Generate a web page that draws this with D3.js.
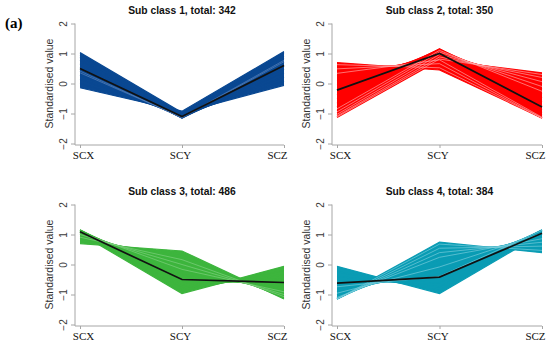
<!DOCTYPE html>
<html><head><meta charset="utf-8">
<script src="https://cdn.jsdelivr.net/npm/d3@7"></script>
<style>body{margin:0;background:#fff}svg{display:block}</style>
</head><body><svg id="c" width="550" height="349"></svg>
<script>
const categories = ["SCX", "SCY", "SCZ"];
const yTicks = [2, 1, 0, -1, -2];
const titles = ["Sub class 1, total: 342", "Sub class 2, total: 350", "Sub class 3, total: 486", "Sub class 4, total: 384"];

const lines1 = [[-0.141,-0.922,1.063],[0,-1.0,1.0],[0.141,-1.063,0.922],[0.279,-1.110,0.831],[0.414,-1.140,0.727],[0.542,-1.154,0.612],[0.662,-1.150,0.488],[0.773,-1.129,0.357],[0.871,-1.092,0.220],[0.957,-1.038,0.081],[1.029,-0.968,-0.060]];
const faint1 = [[0.414,-1.140,0.727],[0.357,-1.129,0.773]];
const mean1 = [0.5,-1.1,0.6];

const lines2 = [[0.695,0.451,-1.146],[0.560,0.595,-1.155],[0.414,0.727,-1.140],[0.260,0.845,-1.104],[0.101,0.946,-1.047],[-0.060,1.029,-0.968],[-0.220,1.092,-0.871],[-0.376,1.133,-0.758],[-0.524,1.153,-0.629],[-0.662,1.150,-0.488],[-0.788,1.125,-0.338],[-0.897,1.078,-0.181],[-0.990,1.010,-0.020],[-1.063,0.922,0.141],[-1.110,0.831,0.279],[-1.129,0.773,0.357]];
const faint2 = [[0.629,0.524,-1.153],[0.488,0.662,-1.150],[0.338,0.788,-1.125],[-0.845,1.104,-0.260],[-0.946,1.047,-0.101],[-1.029,0.968,0.060],[-1.085,0.885,0.200],[-1.115,0.816,0.299]];
const mean2 = [-0.22,1.0,-0.78];

const lines3 = [[1.029,-0.968,-0.060],[1.085,-0.885,-0.200],[1.125,-0.788,-0.338],[1.148,-0.679,-0.470],[1.155,-0.577,-0.577],[1.148,-0.470,-0.679],[1.125,-0.338,-0.788],[1.085,-0.200,-0.885],[1.029,-0.060,-0.968],[0.957,0.081,-1.038],[0.871,0.220,-1.092],[0.788,0.338,-1.125],[0.695,0.451,-1.146]];
const faint3 = [[0.910,0.161,-1.071],[1.0,0,-1.0],[1.071,-0.161,-0.910]];
const mean3 = [1.09,-0.5,-0.6];

const lines4 = [[-1.137,0.742,0.395],[-1.154,0.612,0.542],[-1.148,0.470,0.679],[-1.120,0.318,0.802],[-1.071,0.161,0.910],[-1.0,0,1.0],[-0.910,-0.161,1.071],[-0.802,-0.318,1.120],[-0.679,-0.470,1.148],[-0.542,-0.612,1.154],[-0.395,-0.742,1.137],[-0.240,-0.858,1.098],[-0.060,-0.968,1.029]];
const faint4 = [[-1.148,0.679,0.470],[-1.154,0.542,0.612],[-1.137,0.395,0.742],[-1.098,0.240,0.858],[-0.957,-0.081,1.038],[-0.742,-0.395,1.137]];
const mean4 = [-0.62,-0.42,1.04];

const panelsData = [
  {title: titles[0], lines: lines1, faint: faint1, mean: mean1, color: "#0a4892", light: "#5f86bd"},
  {title: titles[1], lines: lines2, faint: faint2, mean: mean2, color: "#ff0000", light: "#ffb0b0"},
  {title: titles[2], lines: lines3, faint: faint3, mean: mean3, color: "#3db53d", light: "#84d184"},
  {title: titles[3], lines: lines4, faint: faint4, mean: mean4, color: "#0a9cb4", light: "#80d0de"}
];

// layout
const colX = [{axis: 75, x0: 80, x1: 284}, {axis: 332, x0: 337, x1: 542}];
const rowY = [{top: 23.5, bot: 143.5, xAxis: 145}, {top: 204.5, bot: 324.5, xAxis: 326}];
const labelShift = [3, -2, -7];

const svg = d3.select("#c");
svg.append("text").attr("x", 5).attr("y", 28)
  .attr("font-family", "Liberation Serif, Times New Roman, serif")
  .attr("font-weight", "bold").attr("font-size", 15).text("(a)");

panelsData.forEach((p, i) => {
  const c = colX[i % 2], r = rowY[Math.floor(i / 2)];
  const xP = d3.scalePoint().domain(categories).range([c.x0, c.x1]);
  const xL = d3.scaleLinear().domain([0, categories.length - 1]).range([c.x0, c.x1]);
  const y = d3.scaleLinear().domain([-2, 2]).range([r.bot, r.top]);
  const g = svg.append("g");

  // envelope of all lines
  const all = p.lines.concat(p.faint);
  const last = categories.length - 1;
  const interp = (a, t) => { const k = Math.min(Math.floor(t), a.length - 2); const f = t - k; return a[k] + (a[k + 1] - a[k]) * f; };
  const samples = d3.range(0, last + 1e-9, 0.01).map(t => {
    const tt = Math.min(t, last);
    const vals = all.map(a => interp(a, tt));
    return {t: tt, lo: d3.min(vals), hi: d3.max(vals)};
  });
  g.append("path").datum(samples)
    .attr("d", d3.area().x(d => xL(d.t)).y0(d => y(d.lo)).y1(d => y(d.hi)))
    .attr("fill", p.color);

  const line = d3.line().x((d, k) => xP(categories[k])).y(d => y(d));
  g.selectAll(".ln").data(p.lines).join("path").attr("d", line)
    .attr("fill", "none").attr("stroke", p.color).attr("stroke-width", 1.2);
  g.selectAll(".fl").data(p.faint).join("path").attr("d", line)
    .attr("fill", "none").attr("stroke", p.light).attr("stroke-width", 0.8).attr("stroke-opacity", 0.8);
  g.append("path").attr("d", line(p.mean)).attr("fill", "none")
    .attr("stroke", "#111").attr("stroke-width", 1.7);

  // axes lines
  const axisCol = "#a6a6a6";
  g.append("line").attr("x1", c.axis).attr("x2", c.axis).attr("y1", y(2)).attr("y2", r.xAxis)
    .attr("stroke", axisCol).attr("stroke-width", 1);
  g.append("line").attr("x1", c.axis).attr("x2", xP(categories[last])).attr("y1", r.xAxis).attr("y2", r.xAxis)
    .attr("stroke", axisCol).attr("stroke-width", 1);

  const ya = g.append("g").attr("transform", `translate(${c.axis},0)`)
    .call(d3.axisLeft(y).tickValues(yTicks).tickSize(4).tickFormat(d3.format("d")));
  ya.select(".domain").remove();
  ya.selectAll(".tick line").attr("stroke", axisCol);
  ya.selectAll(".tick text").attr("x", 0).attr("y", -8).attr("dy", 0)
    .attr("transform", "rotate(-90)").attr("text-anchor", "middle")
    .attr("font-family", "Liberation Sans, Arial, sans-serif").attr("font-size", 10).attr("fill", "#3a3a3a");

  const xa = g.append("g").attr("transform", `translate(0,${r.xAxis})`)
    .call(d3.axisBottom(xP).tickSize(3).tickSizeOuter(0));
  xa.select(".domain").remove();
  xa.selectAll(".tick line").attr("stroke", axisCol);
  xa.selectAll(".tick text").attr("y", 14).attr("dy", 0)
    .attr("x", (d, k) => labelShift[k])
    .attr("font-family", "Liberation Serif, Times New Roman, serif").attr("font-size", 11).attr("fill", "#111");

  g.append("text").attr("transform", `translate(${c.axis - 22.5},${(y(2) + y(-2)) / 2}) rotate(-90)`)
    .attr("text-anchor", "middle").attr("font-family", "Liberation Sans, Arial, sans-serif")
    .attr("font-size", 10.5).attr("fill", "#333").text("Standardised value");

  g.append("text").attr("x", xP(categories[1])).attr("y", r.top - 10)
    .attr("text-anchor", "middle").attr("font-family", "Liberation Sans, Arial, sans-serif")
    .attr("font-weight", "bold").attr("font-size", 10.3).attr("fill", "#111").text(p.title);
});
</script></body></html>
